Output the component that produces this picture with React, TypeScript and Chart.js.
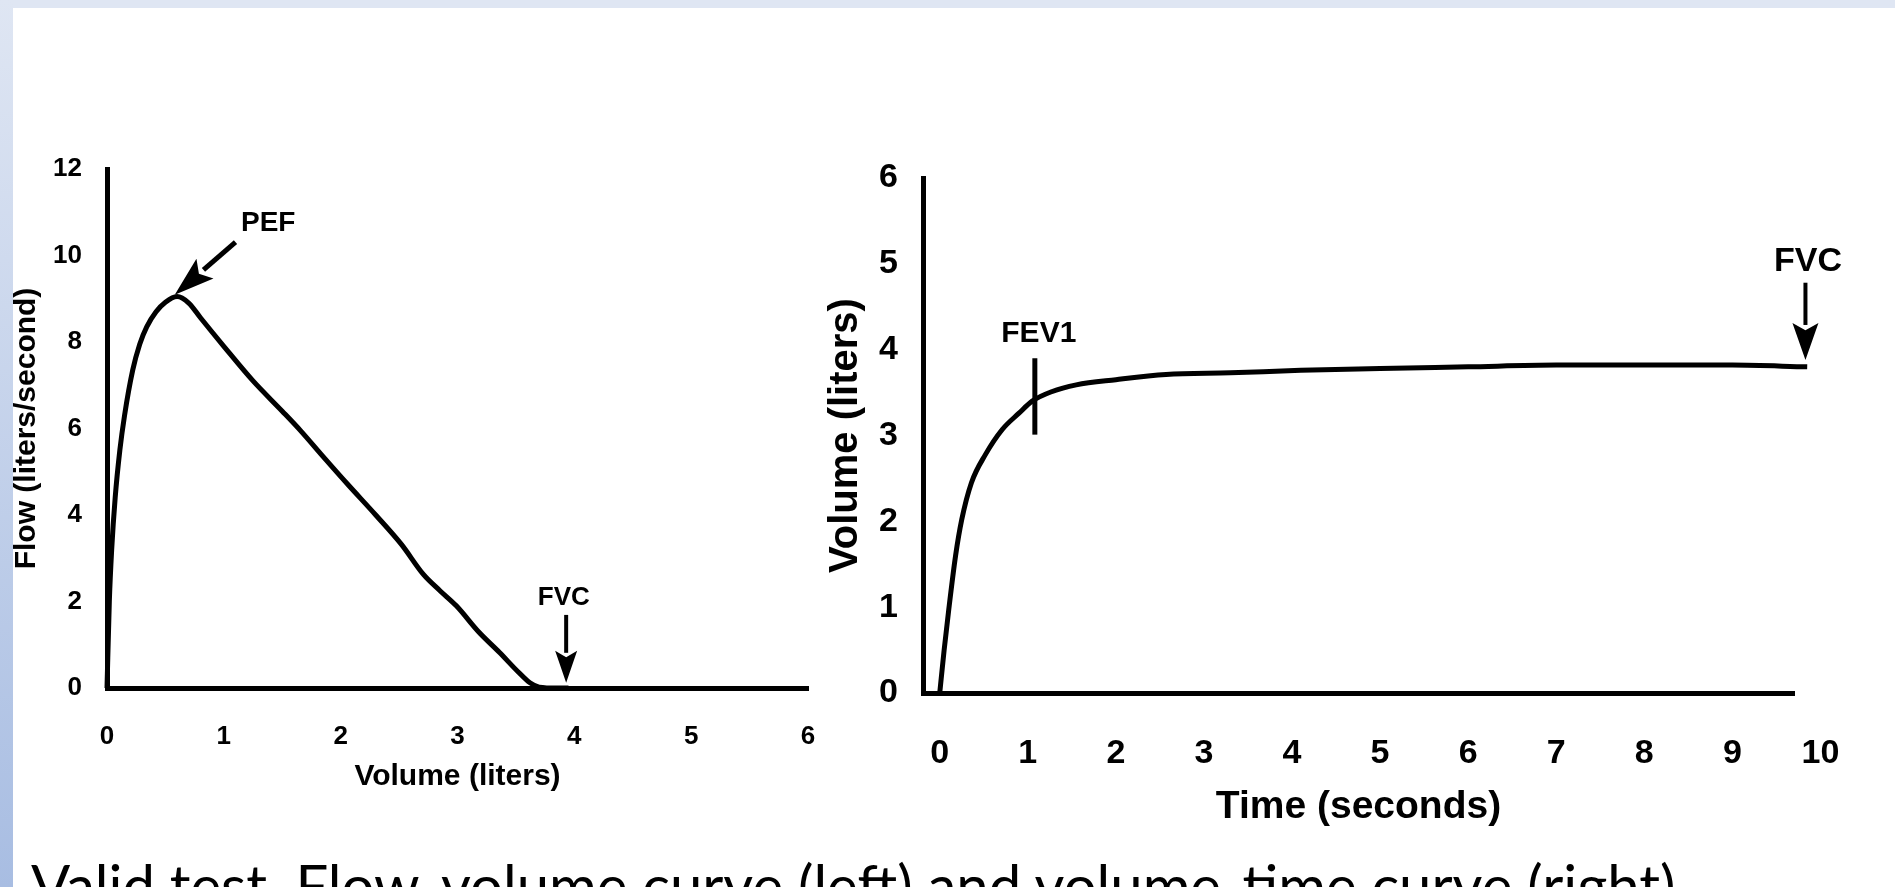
import React, { useEffect, useRef } from "react";
import { Chart, registerables } from "chart.js";

Chart.register(...registerables);

// ---------- Left chart: flow-volume curve ----------
const FV_VOLUME = [0, 0.02, 0.04, 0.07, 0.11, 0.15, 0.22, 0.28, 0.34, 0.42, 0.5, 0.6, 0.7, 0.8, 1.0, 1.25, 1.5, 1.66, 1.85, 2.06, 2.3, 2.52, 2.71, 2.85, 2.99, 3.18, 3.36, 3.52, 3.62, 3.7, 3.85, 3.95];
const FV_FLOW = [0, 2.0, 3.2, 4.4, 5.5, 6.3, 7.35, 7.95, 8.35, 8.7, 8.92, 9.05, 8.9, 8.56, 7.9, 7.1, 6.4, 5.94, 5.35, 4.71, 4.0, 3.32, 2.62, 2.25, 1.9, 1.3, 0.82, 0.37, 0.12, 0.02, 0, 0];
const FV_X_TICKS = [0, 1, 2, 3, 4, 5, 6];
const FV_Y_TICKS = [0, 2, 4, 6, 8, 10, 12];
const FV_X_TITLE = "Volume (liters)";
const FV_Y_TITLE = "Flow (liters/second)";
const FV_PEF_LABEL: [number, number] = [1.38, 10.75];
const FV_PEF_ARROW: [number, number][] = [[1.1, 10.31], [0.58, 9.09]];
const FV_FVC_LABEL: [number, number] = [3.91, 2.08];
const FV_FVC_ARROW: [number, number][] = [[3.93, 1.69], [3.93, 0.12]];

// ---------- Right chart: volume-time curve ----------
const VT_TIME = [0, 0.05, 0.1, 0.18, 0.25, 0.36, 0.52, 0.71, 0.9, 1.05, 1.27, 1.55, 2.0, 2.57, 3.3, 4.1, 5.0, 6.0, 7.0, 8.0, 9.0, 9.85];
const VT_VOLUME = [0, 0.5, 0.95, 1.6, 2.02, 2.45, 2.78, 3.07, 3.26, 3.4, 3.51, 3.59, 3.65, 3.71, 3.73, 3.76, 3.78, 3.8, 3.82, 3.82, 3.82, 3.8];
const VT_X_TICKS = [0, 1, 2, 3, 4, 5, 6, 7, 8, 9, 10];
const VT_Y_TICKS = [0, 1, 2, 3, 4, 5, 6];
const VT_X_TITLE = "Time (seconds)";
const VT_Y_TITLE = "Volume (liters)";
const VT_FEV1_LABEL: [number, number] = [1.125, 4.19];
const VT_FEV1_MARK: [number, number][] = [[1.08, 3.9], [1.08, 3.01]];
const VT_FVC_LABEL: [number, number] = [9.86, 5.02];
const VT_FVC_ARROW: [number, number][] = [[9.83, 4.78], [9.83, 3.88]];

const CAPTION = "Valid test. Flow-volume curve (left) and volume-time curve (right)";

const W = 1895;
const H = 887;
const FONT = '"Liberation Sans", Arial, sans-serif';

const setTicks = (values: number[]) => (s: any) => {
  s.ticks = values.map((v) => ({ value: v }));
};
const fixedWidth = (w: number) => (s: any) => {
  s.width = w;
};
const fixedHeight = (h: number) => (s: any) => {
  s.height = h;
};

function drawArrow(ctx: CanvasRenderingContext2D, a: [number, number], b: [number, number], headLen: number, headW: number, lw: number) {
  const dx = b[0] - a[0];
  const dy = b[1] - a[1];
  const len = Math.hypot(dx, dy);
  const ux = dx / len;
  const uy = dy / len;
  const bx = b[0] - ux * headLen;
  const by = b[1] - uy * headLen;
  ctx.strokeStyle = "#000";
  ctx.fillStyle = "#000";
  ctx.lineWidth = lw;
  ctx.lineCap = "butt";
  ctx.beginPath();
  ctx.moveTo(a[0], a[1]);
  ctx.lineTo(bx + ux * 2, by + uy * 2);
  ctx.stroke();
  ctx.beginPath();
  ctx.moveTo(b[0], b[1]);
  ctx.lineTo(bx - uy * headW / 2, by + ux * headW / 2);
  ctx.lineTo(bx + ux * headLen * 0.2, by + uy * headLen * 0.2);
  ctx.lineTo(bx + uy * headW / 2, by - ux * headW / 2);
  ctx.closePath();
  ctx.fill();
}

function drawLabel(ctx: CanvasRenderingContext2D, text: string, p: [number, number], size: number) {
  ctx.font = `bold ${size}px ${FONT}`;
  ctx.fillStyle = "#000";
  ctx.textAlign = "center";
  ctx.textBaseline = "middle";
  ctx.fillText(text, p[0], p[1]);
}

function annotationPlugin(draw: (ctx: CanvasRenderingContext2D, px: (p: [number, number]) => [number, number]) => void) {
  return {
    id: "annotations",
    afterDatasetsDraw(chart: any) {
      const { ctx, scales } = chart;
      const px = (p: [number, number]): [number, number] => [scales.x.getPixelForValue(p[0]), scales.y.getPixelForValue(p[1])];
      ctx.save();
      draw(ctx, px);
      ctx.restore();
    },
  };
}

function axisOptions(o: {
  min: number;
  max: number;
  ticks: number[];
  tickSize: number;
  tickPad: number;
  title: string;
  titleSize: number;
  titlePad: any;
  fit: (s: any) => void;
}) {
  return {
    type: "linear",
    min: o.min,
    max: o.max,
    afterBuildTicks: setTicks(o.ticks),
    afterFit: o.fit,
    grid: { display: false, drawTicks: false },
    border: { display: true, color: "#000", width: 5 },
    ticks: {
      color: "#000",
      font: { family: FONT, weight: "bold", size: o.tickSize },
      padding: o.tickPad,
      autoSkip: false,
      maxRotation: 0,
    },
    title: {
      display: true,
      text: o.title,
      color: "#000",
      font: { family: FONT, weight: "bold", size: o.titleSize },
      padding: o.titlePad,
    },
  };
}

function lineDataset(xs: number[], ys: number[]) {
  return {
    data: xs.map((x, i) => ({ x, y: ys[i] })),
    showLine: true,
    borderColor: "#000",
    backgroundColor: "#000",
    borderWidth: 5,
    pointRadius: 0,
    cubicInterpolationMode: "monotone",
    fill: false,
    clip: false,
  };
}

export default function App() {
  const leftRef = useRef<HTMLCanvasElement | null>(null);
  const rightRef = useRef<HTMLCanvasElement | null>(null);

  useEffect(() => {
    document.body.style.margin = "0";
    const left = new Chart(leftRef.current as HTMLCanvasElement, {
      type: "scatter",
      data: { datasets: [lineDataset(FV_VOLUME, FV_FLOW) as any] },
      options: {
        animation: false,
        responsive: false,
        events: [],
        layout: { padding: { left: 0, top: 169, right: W - 808, bottom: H - 688 - 120 } },
        plugins: { legend: { display: false }, tooltip: { enabled: false } },
        scales: {
          x: axisOptions({
            min: 0, max: 6, ticks: FV_X_TICKS, tickSize: 26, tickPad: 33,
            title: FV_X_TITLE, titleSize: 30, titlePad: { top: 0, bottom: 13 }, fit: fixedHeight(120),
          }) as any,
          y: axisOptions({
            min: 0, max: 12, ticks: FV_Y_TICKS, tickSize: 26, tickPad: 25,
            title: FV_Y_TITLE, titleSize: 30, titlePad: { top: 9, bottom: 0 }, fit: fixedWidth(107),
          }) as any,
        },
      } as any,
      plugins: [
        annotationPlugin((ctx, px) => {
          drawLabel(ctx, "PEF", px(FV_PEF_LABEL), 28);
          drawArrow(ctx, px(FV_PEF_ARROW[0]), px(FV_PEF_ARROW[1]), 40, 26, 5);
          drawLabel(ctx, "FVC", px(FV_FVC_LABEL), 26);
          drawArrow(ctx, px(FV_FVC_ARROW[0]), px(FV_FVC_ARROW[1]), 32, 22, 4);
        }) as any,
      ],
    });

    const right = new Chart(rightRef.current as HTMLCanvasElement, {
      type: "scatter",
      data: { datasets: [lineDataset(VT_TIME, VT_VOLUME) as any] },
      options: {
        animation: false,
        responsive: false,
        events: [],
        layout: { padding: { left: 780, top: 178, right: W - 1794, bottom: H - 693 - 150 } },
        plugins: { legend: { display: false }, tooltip: { enabled: false } },
        scales: {
          x: axisOptions({
            min: -0.19, max: 9.7, ticks: VT_X_TICKS, tickSize: 34, tickPad: 40,
            title: VT_X_TITLE, titleSize: 39, titlePad: { top: 0, bottom: 12 }, fit: fixedHeight(150),
          }) as any,
          y: axisOptions({
            min: 0, max: 6, ticks: VT_Y_TICKS, tickSize: 34, tickPad: 25,
            title: VT_Y_TITLE, titleSize: 40, titlePad: { top: 42, bottom: 0 }, fit: fixedWidth(143),
          }) as any,
        },
      } as any,
      plugins: [
        annotationPlugin((ctx, px) => {
          drawLabel(ctx, "FEV1", px(VT_FEV1_LABEL), 30);
          const a = px(VT_FEV1_MARK[0]);
          const b = px(VT_FEV1_MARK[1]);
          ctx.strokeStyle = "#000";
          ctx.lineWidth = 5;
          ctx.beginPath();
          ctx.moveTo(a[0], a[1]);
          ctx.lineTo(b[0], b[1]);
          ctx.stroke();
          drawLabel(ctx, "FVC", px(VT_FVC_LABEL), 34);
          drawArrow(ctx, px(VT_FVC_ARROW[0]), px(VT_FVC_ARROW[1]), 37, 26, 4);
        }) as any,
      ],
    });

    return () => {
      left.destroy();
      right.destroy();
    };
  }, []);

  return (
    <div style={{ position: "fixed", left: 0, top: 0, width: W, height: H, overflow: "hidden", background: "#fff" }}>
      <div style={{ position: "absolute", left: 0, top: 0, width: W, height: 8, background: "#dfe6f3" }} />
      <div style={{ position: "absolute", left: 0, top: 0, width: 13, height: H, background: "linear-gradient(#dfe6f3, #a8bde2)" }} />
      <canvas ref={leftRef} width={W} height={H} style={{ position: "absolute", left: 0, top: 0, width: W, height: H }} />
      <canvas ref={rightRef} width={W} height={H} style={{ position: "absolute", left: 0, top: 0, width: W, height: H }} />
      <div
        style={{
          position: "absolute",
          left: 31,
          top: 856,
          fontFamily: "Lato, sans-serif",
          fontSize: 58,
          lineHeight: 1,
          whiteSpace: "nowrap",
          color: "#000",
        }}
      >
        {CAPTION}
      </div>
    </div>
  );
}
